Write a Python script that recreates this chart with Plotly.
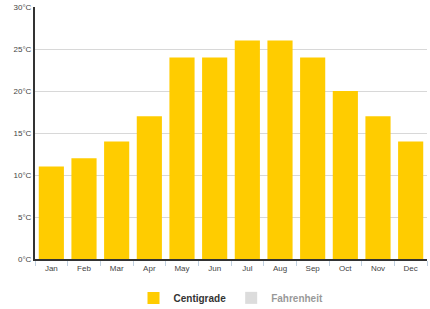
import plotly.graph_objects as go

months = ["Jan", "Feb", "Mar", "Apr", "May", "Jun", "Jul", "Aug", "Sep", "Oct", "Nov", "Dec"]
centigrade = [11, 12, 14, 17, 24, 24, 26, 26, 24, 20, 17, 14]
fahrenheit = [52, 54, 57, 63, 75, 75, 79, 79, 75, 68, 63, 57]
y_ticks = [0, 5, 10, 15, 20, 25, 30]
y_labels = ["0°C", "5°C", "10°C", "15°C", "20°C", "25°C", "30°C"]

fig = go.Figure()
fig.add_trace(go.Bar(x=months, y=centigrade, name="Centigrade",
                     marker=dict(color="#FFCC00", line=dict(width=0))))
fig.add_trace(go.Bar(x=months, y=fahrenheit, name="Fahrenheit",
                     marker=dict(color="#BBBBBB", line=dict(width=0)),
                     visible="legendonly"))

fig.update_layout(
    width=430, height=309,
    margin=dict(l=35, r=3, t=7, b=50),
    paper_bgcolor="white", plot_bgcolor="white",
    bargap=0.23,
    barmode="group",
    font=dict(family="Arial, Liberation Sans, sans-serif", size=8, color="#444444"),
    showlegend=True,
    legend=dict(orientation="h", x=0.5, xanchor="center", xref="paper",
                y=0.036, yref="container", yanchor="middle",
                font=dict(size=10, color="#333333", weight="bold"), itemwidth=30),
    xaxis=dict(showline=True, linecolor="#333333", linewidth=2,
               ticks="outside", tickson="boundaries", ticklen=5, tickcolor="#C0D0E0",
               tickfont=dict(size=8, color="#444444"), showgrid=False, fixedrange=True),
    yaxis=dict(range=[0, 30], tickvals=y_ticks, ticktext=y_labels,
               showline=True, linecolor="#333333", linewidth=2,
               gridcolor="#D8D8D8", gridwidth=1, zeroline=False,
               tickfont=dict(size=8, color="#444444"), ticks="", fixedrange=True),
)

fig.write_html("out.html")
